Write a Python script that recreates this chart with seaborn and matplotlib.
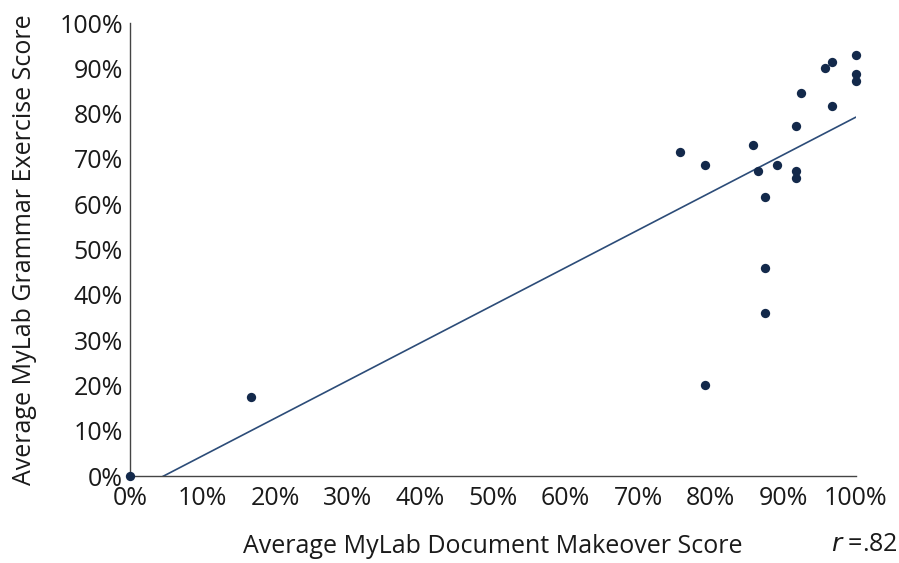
import numpy as np
import pandas as pd
import seaborn as sns
import matplotlib.pyplot as plt
from matplotlib.ticker import PercentFormatter

# average scores per student (percent)
makeover = [0.0, 16.7, 75.8, 79.2, 79.2, 85.8, 86.5, 87.5, 87.5, 87.5,
            89.1, 91.7, 91.7, 91.7, 92.4, 95.8, 96.7, 96.7, 100.0, 100.0, 100.0]
grammar = [0.0, 17.4, 71.6, 68.7, 20.2, 73.0, 67.3, 61.7, 45.9, 35.9,
           68.7, 77.3, 67.4, 65.9, 84.5, 90.1, 91.5, 81.6, 93.0, 88.7, 87.3]

df = pd.DataFrame({'makeover': makeover, 'grammar': grammar})

sns.set_style('white')
plt.rcParams['font.family'] = ['Open Sans', 'DejaVu Sans']

fig = plt.figure(figsize=(8.99, 5.63), dpi=100)
ax = fig.add_axes([0.1446, 0.1545, 0.952 - 0.1446, 0.959 - 0.1545])

sns.regplot(data=df, x='makeover', y='grammar', ci=None, ax=ax,
            scatter_kws={'s': 45, 'color': '#13294b', 'alpha': 1,
                         'clip_on': False, 'zorder': 5, 'linewidths': 0},
            line_kws={'color': '#2c4c78', 'lw': 1.2})

ax.set_xlim(0, 100)
ax.set_ylim(0, 100)
ax.set_xticks(np.arange(0, 101, 10))
ax.set_yticks(np.arange(0, 101, 10))
ax.xaxis.set_major_formatter(PercentFormatter(decimals=0))
ax.yaxis.set_major_formatter(PercentFormatter(decimals=0))
ax.tick_params(axis='x', direction='in', length=11, width=1, color='#555555',
               labelsize=18, pad=7, labelcolor='#1a1a1a')
ax.tick_params(axis='y', direction='in', length=17, width=1, color='#777777',
               labelsize=18, pad=5, labelcolor='#1a1a1a')

sns.despine(ax=ax)
for s in ['left', 'bottom']:
    ax.spines[s].set_color('#444444')
    ax.spines[s].set_linewidth(1)

ax.set_xlabel('Average MyLab Document Makeover Score', fontsize=18,
              labelpad=17, color='#1a1a1a')
ax.set_ylabel('Average MyLab Grammar Exercise Score', fontsize=18,
              labelpad=16, color='#1a1a1a')
fig.text(0.924, 0.022, r'$r$ =.82', fontsize=18, ha='left', color='#1a1a1a')

fig.savefig('out.png', dpi=100)
